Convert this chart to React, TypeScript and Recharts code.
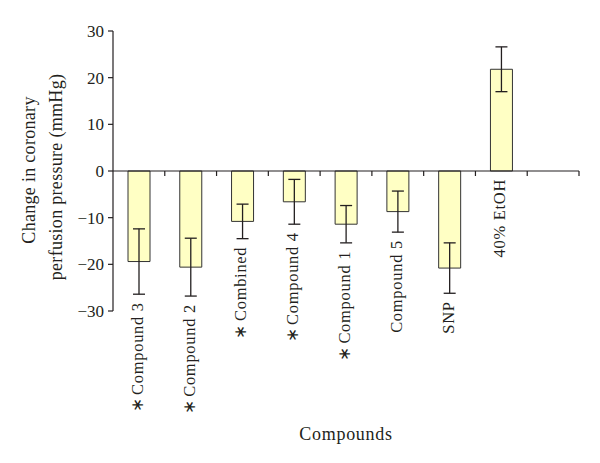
import {
  Bar,
  ComposedChart,
  ErrorBar,
  LabelList,
  Line,
  ReferenceLine,
  XAxis,
  YAxis,
} from 'recharts';

const categories = [
  '∗ Compound 3',
  '∗ Compound 2',
  '∗ Combined',
  '∗ Compound 4',
  '∗ Compound 1',
  'Compound 5',
  'SNP',
  '40% EtOH',
  '',
];
const changes = [-19.4, -20.6, -10.8, -6.6, -11.4, -8.7, -20.8, 21.8, null];
const errors = [7.0, 6.2, 3.7, 4.8, 4.0, 4.4, 5.4, 4.8, null];
const yTicks = [-30, -20, -10, 0, 10, 20, 30];

const FONT = '"Liberation Serif", "Times New Roman", serif';
const INK = '#231f20';

const data = categories.map((name, i) => {
  const v = changes[i];
  const e = errors[i];
  return {
    name,
    change: v,
    err: e,
    // labels sit just under the bar or its error whisker
    labelAt: v == null ? null : v < 0 ? v - (e || 0) : 0,
  };
});

function fmtTick(v: number) {
  return v < 0 ? `−${-v}` : `${v}`;
}

function CompoundLabel(props: any) {
  const { x, y, value } = props;
  if (x == null || y == null || !value) return null;
  const starred = value.startsWith('∗');
  return (
    <text
      transform={`translate(${x + 4},${y + 8}) rotate(-90)`}
      textAnchor="end"
      fontFamily={FONT}
      fontSize={16.5}
      letterSpacing={0.7}
      fill={INK}
    >
      {starred ? (
        <>
          <tspan>∗</tspan>
          <tspan dx={-2}>{value.slice(1)}</tspan>
        </>
      ) : (
        value
      )}
    </text>
  );
}

function ZeroAxis(props: any) {
  const { x1, y1, x2 } = props;
  const n = categories.length;
  const step = (x2 - x1) / n;
  return (
    <g>
      <line x1={x1} y1={y1} x2={x2} y2={y1} stroke={INK} strokeWidth={1.2} />
      {categories.map((_, i) => (
        <line
          key={i}
          x1={x1 + step * (i + 1)}
          x2={x1 + step * (i + 1)}
          y1={y1}
          y2={y1 + 5}
          stroke={INK}
          strokeWidth={1.2}
        />
      ))}
    </g>
  );
}

function YTitle(props: any) {
  const { viewBox } = props;
  const cy = viewBox.y + viewBox.height / 2;
  return (
    <g fontFamily={FONT} fontSize={18} letterSpacing={0.3} fill={INK}>
      <text transform={`translate(35,${cy - 1}) rotate(-90)`} textAnchor="middle">
        Change in coronary
      </text>
      <text transform={`translate(62,${cy + 6}) rotate(-90)`} textAnchor="middle">
        perfusion pressure (mmHg)
      </text>
    </g>
  );
}

function XTitle(props: any) {
  const { viewBox } = props;
  const cx = viewBox.x + viewBox.width / 2;
  return (
    <text
      x={cx}
      y={440}
      textAnchor="middle"
      fontFamily={FONT}
      fontSize={18}
      letterSpacing={0.7}
      fill={INK}
    >
      Compounds
    </text>
  );
}

export default function App() {
  return (
    <div style={{ position: 'absolute', left: 0, top: 0, width: 600, height: 463, background: '#fff' }}>
      <ComposedChart
        width={600}
        height={463}
        data={data}
        margin={{ top: 31, right: 21, bottom: 22, left: 63 }}
      >
        <XAxis
          dataKey="name"
          axisLine={false}
          tickLine={false}
          tick={false}
          height={130}
          label={<XTitle />}
        />
        <YAxis
          domain={[-30, 30]}
          ticks={yTicks}
          width={50}
          tickSize={5}
          tickMargin={4}
          tickFormatter={fmtTick}
          axisLine={{ stroke: INK, strokeWidth: 1.2 }}
          tickLine={{ stroke: INK, strokeWidth: 1.2 }}
          tick={{ fontFamily: FONT, fontSize: 17, fill: INK }}
          label={<YTitle />}
        />
        <ReferenceLine y={0} shape={<ZeroAxis />} />
        <Bar dataKey="change" fill="#ffffc4" stroke="#333" strokeWidth={1} barSize={22} isAnimationActive={false}>
          <ErrorBar dataKey="err" width={6} stroke={INK} strokeWidth={1.3} />
        </Bar>
        <Line dataKey="labelAt" stroke="none" dot={false} activeDot={false} isAnimationActive={false}>
          <LabelList dataKey="name" content={<CompoundLabel />} />
        </Line>
      </ComposedChart>
    </div>
  );
}
